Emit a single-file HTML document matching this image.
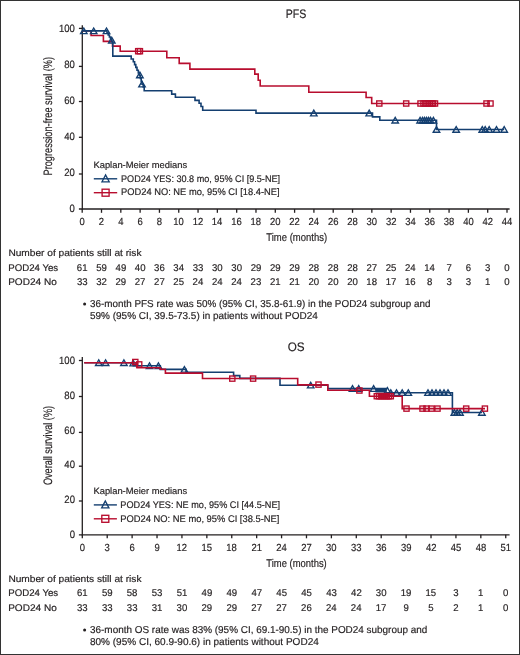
<!DOCTYPE html>
<html><head><meta charset="utf-8"><style>
html,body{margin:0;padding:0;background:#fff;}
body{width:520px;height:655px;overflow:hidden;}
.f{position:absolute;left:0;top:0;width:520px;height:655px;box-sizing:border-box;border:1px solid #333;}
svg{position:absolute;left:0;top:0;will-change:transform;}
text{font-family:"Liberation Sans",sans-serif;stroke:#231f20;stroke-width:0.18px;text-rendering:geometricPrecision;}
</style></head><body>
<div class="f"></div>
<svg width="520" height="655" viewBox="0 0 520 655">
<text x="285.73" y="17.90" font-size="12.3" textLength="20.55" lengthAdjust="spacingAndGlyphs" fill="#231f20">PFS</text>
<text x="58.96" y="31.80" font-size="10.6" textLength="15.92" lengthAdjust="spacingAndGlyphs" fill="#231f20">100</text>
<text x="64.26" y="67.50" font-size="10.6" textLength="10.61" lengthAdjust="spacingAndGlyphs" fill="#231f20">80</text>
<text x="64.26" y="103.50" font-size="10.6" textLength="10.61" lengthAdjust="spacingAndGlyphs" fill="#231f20">60</text>
<text x="64.26" y="139.80" font-size="10.6" textLength="10.61" lengthAdjust="spacingAndGlyphs" fill="#231f20">40</text>
<text x="64.26" y="175.80" font-size="10.6" textLength="10.61" lengthAdjust="spacingAndGlyphs" fill="#231f20">20</text>
<text x="69.57" y="211.70" font-size="10.6" textLength="5.31" lengthAdjust="spacingAndGlyphs" fill="#231f20">0</text>
<text transform="translate(51.50,174.70) rotate(-90)" x="-0.75" y="0" font-size="12.2" textLength="118.52" lengthAdjust="spacingAndGlyphs" fill="#231f20">Progression-free survival (%)</text>
<line x1="82.3" y1="25.2" x2="82.3" y2="209.6" stroke="#231f20" stroke-width="1.3"/>
<line x1="78.9" y1="209.0" x2="509.6" y2="209.0" stroke="#231f20" stroke-width="1.3"/>
<line x1="78.9" y1="28.4" x2="82.3" y2="28.4" stroke="#231f20" stroke-width="1.3"/>
<line x1="78.9" y1="66.4" x2="82.3" y2="66.4" stroke="#231f20" stroke-width="1.3"/>
<line x1="78.9" y1="101.5" x2="82.3" y2="101.5" stroke="#231f20" stroke-width="1.3"/>
<line x1="78.9" y1="137.3" x2="82.3" y2="137.3" stroke="#231f20" stroke-width="1.3"/>
<line x1="78.9" y1="174.0" x2="82.3" y2="174.0" stroke="#231f20" stroke-width="1.3"/>
<line x1="82.2" y1="209.0" x2="82.2" y2="212.8" stroke="#231f20" stroke-width="1.3"/>
<text x="79.56" y="224.60" font-size="10.3" textLength="5.27" lengthAdjust="spacingAndGlyphs" fill="#231f20">0</text>
<line x1="101.50909090909092" y1="209.0" x2="101.50909090909092" y2="212.8" stroke="#231f20" stroke-width="1.3"/>
<text x="98.87" y="224.60" font-size="10.3" textLength="5.27" lengthAdjust="spacingAndGlyphs" fill="#231f20">2</text>
<line x1="120.81818181818181" y1="209.0" x2="120.81818181818181" y2="212.8" stroke="#231f20" stroke-width="1.3"/>
<text x="118.21" y="224.60" font-size="10.3" textLength="5.27" lengthAdjust="spacingAndGlyphs" fill="#231f20">4</text>
<line x1="140.12727272727273" y1="209.0" x2="140.12727272727273" y2="212.8" stroke="#231f20" stroke-width="1.3"/>
<text x="137.46" y="224.60" font-size="10.3" textLength="5.27" lengthAdjust="spacingAndGlyphs" fill="#231f20">6</text>
<line x1="159.43636363636364" y1="209.0" x2="159.43636363636364" y2="212.8" stroke="#231f20" stroke-width="1.3"/>
<text x="156.80" y="224.60" font-size="10.3" textLength="5.27" lengthAdjust="spacingAndGlyphs" fill="#231f20">8</text>
<line x1="178.74545454545455" y1="209.0" x2="178.74545454545455" y2="212.8" stroke="#231f20" stroke-width="1.3"/>
<text x="173.30" y="224.60" font-size="10.3" textLength="10.54" lengthAdjust="spacingAndGlyphs" fill="#231f20">10</text>
<line x1="198.05454545454546" y1="209.0" x2="198.05454545454546" y2="212.8" stroke="#231f20" stroke-width="1.3"/>
<text x="192.66" y="224.60" font-size="10.3" textLength="10.54" lengthAdjust="spacingAndGlyphs" fill="#231f20">12</text>
<line x1="217.36363636363637" y1="209.0" x2="217.36363636363637" y2="212.8" stroke="#231f20" stroke-width="1.3"/>
<text x="211.87" y="224.60" font-size="10.3" textLength="10.54" lengthAdjust="spacingAndGlyphs" fill="#231f20">14</text>
<line x1="236.6727272727273" y1="209.0" x2="236.6727272727273" y2="212.8" stroke="#231f20" stroke-width="1.3"/>
<text x="231.25" y="224.60" font-size="10.3" textLength="10.54" lengthAdjust="spacingAndGlyphs" fill="#231f20">16</text>
<line x1="255.9818181818182" y1="209.0" x2="255.9818181818182" y2="212.8" stroke="#231f20" stroke-width="1.3"/>
<text x="250.56" y="224.60" font-size="10.3" textLength="10.54" lengthAdjust="spacingAndGlyphs" fill="#231f20">18</text>
<line x1="275.2909090909091" y1="209.0" x2="275.2909090909091" y2="212.8" stroke="#231f20" stroke-width="1.3"/>
<text x="269.97" y="224.60" font-size="10.3" textLength="10.54" lengthAdjust="spacingAndGlyphs" fill="#231f20">20</text>
<line x1="294.6" y1="209.0" x2="294.6" y2="212.8" stroke="#231f20" stroke-width="1.3"/>
<text x="289.33" y="224.60" font-size="10.3" textLength="10.54" lengthAdjust="spacingAndGlyphs" fill="#231f20">22</text>
<line x1="313.9090909090909" y1="209.0" x2="313.9090909090909" y2="212.8" stroke="#231f20" stroke-width="1.3"/>
<text x="308.54" y="224.60" font-size="10.3" textLength="10.54" lengthAdjust="spacingAndGlyphs" fill="#231f20">24</text>
<line x1="333.2181818181818" y1="209.0" x2="333.2181818181818" y2="212.8" stroke="#231f20" stroke-width="1.3"/>
<text x="327.92" y="224.60" font-size="10.3" textLength="10.54" lengthAdjust="spacingAndGlyphs" fill="#231f20">26</text>
<line x1="352.5272727272727" y1="209.0" x2="352.5272727272727" y2="212.8" stroke="#231f20" stroke-width="1.3"/>
<text x="347.22" y="224.60" font-size="10.3" textLength="10.54" lengthAdjust="spacingAndGlyphs" fill="#231f20">28</text>
<line x1="371.8363636363636" y1="209.0" x2="371.8363636363636" y2="212.8" stroke="#231f20" stroke-width="1.3"/>
<text x="366.57" y="224.60" font-size="10.3" textLength="10.54" lengthAdjust="spacingAndGlyphs" fill="#231f20">30</text>
<line x1="391.1454545454545" y1="209.0" x2="391.1454545454545" y2="212.8" stroke="#231f20" stroke-width="1.3"/>
<text x="385.93" y="224.60" font-size="10.3" textLength="10.54" lengthAdjust="spacingAndGlyphs" fill="#231f20">32</text>
<line x1="410.45454545454544" y1="209.0" x2="410.45454545454544" y2="212.8" stroke="#231f20" stroke-width="1.3"/>
<text x="405.14" y="224.60" font-size="10.3" textLength="10.54" lengthAdjust="spacingAndGlyphs" fill="#231f20">34</text>
<line x1="429.76363636363635" y1="209.0" x2="429.76363636363635" y2="212.8" stroke="#231f20" stroke-width="1.3"/>
<text x="424.52" y="224.60" font-size="10.3" textLength="10.54" lengthAdjust="spacingAndGlyphs" fill="#231f20">36</text>
<line x1="449.07272727272726" y1="209.0" x2="449.07272727272726" y2="212.8" stroke="#231f20" stroke-width="1.3"/>
<text x="443.83" y="224.60" font-size="10.3" textLength="10.54" lengthAdjust="spacingAndGlyphs" fill="#231f20">38</text>
<line x1="468.3818181818182" y1="209.0" x2="468.3818181818182" y2="212.8" stroke="#231f20" stroke-width="1.3"/>
<text x="463.19" y="224.60" font-size="10.3" textLength="10.54" lengthAdjust="spacingAndGlyphs" fill="#231f20">40</text>
<line x1="487.6909090909091" y1="209.0" x2="487.6909090909091" y2="212.8" stroke="#231f20" stroke-width="1.3"/>
<text x="482.55" y="224.60" font-size="10.3" textLength="10.54" lengthAdjust="spacingAndGlyphs" fill="#231f20">42</text>
<line x1="507.0" y1="209.0" x2="507.0" y2="212.8" stroke="#231f20" stroke-width="1.3"/>
<text x="501.76" y="224.60" font-size="10.3" textLength="10.54" lengthAdjust="spacingAndGlyphs" fill="#231f20">44</text>
<text x="266.29" y="241.10" font-size="11.2" textLength="60.80" lengthAdjust="spacingAndGlyphs" fill="#231f20">Time (months)</text>
<path d="M82.3,30.9H91.1V35.5H103.4V41.4H112.5V46.1H120.2V51.2H166.8V57.7H179.2V63.4H189.9V69.1H254.8V74.1H258.2V80.2H260.2V86H308.8V92.2H366.1V97.5H371.7V103.5H490" fill="none" stroke="#b80d2e" stroke-width="1.6"/>
<rect x="135.60" y="48.60" width="5.20" height="5.20" fill="none" stroke="#b80d2e" stroke-width="1.35"/>
<rect x="137.30" y="48.60" width="5.20" height="5.20" fill="none" stroke="#b80d2e" stroke-width="1.35"/>
<rect x="376.70" y="100.90" width="5.20" height="5.20" fill="none" stroke="#b80d2e" stroke-width="1.35"/>
<rect x="403.60" y="100.90" width="5.20" height="5.20" fill="none" stroke="#b80d2e" stroke-width="1.35"/>
<rect x="417.90" y="100.90" width="5.20" height="5.20" fill="none" stroke="#b80d2e" stroke-width="1.35"/>
<rect x="420.90" y="100.90" width="5.20" height="5.20" fill="none" stroke="#b80d2e" stroke-width="1.35"/>
<rect x="422.90" y="100.90" width="5.20" height="5.20" fill="none" stroke="#b80d2e" stroke-width="1.35"/>
<rect x="424.90" y="100.90" width="5.20" height="5.20" fill="none" stroke="#b80d2e" stroke-width="1.35"/>
<rect x="426.90" y="100.90" width="5.20" height="5.20" fill="none" stroke="#b80d2e" stroke-width="1.35"/>
<rect x="428.90" y="100.90" width="5.20" height="5.20" fill="none" stroke="#b80d2e" stroke-width="1.35"/>
<rect x="430.40" y="100.90" width="5.20" height="5.20" fill="none" stroke="#b80d2e" stroke-width="1.35"/>
<rect x="432.40" y="100.90" width="5.20" height="5.20" fill="none" stroke="#b80d2e" stroke-width="1.35"/>
<rect x="483.90" y="100.90" width="5.20" height="5.20" fill="none" stroke="#b80d2e" stroke-width="1.35"/>
<rect x="487.90" y="100.90" width="5.20" height="5.20" fill="none" stroke="#b80d2e" stroke-width="1.35"/>
<path d="M82.3,30.9H107V33H108.2V35H109.4V37H110.5V39H111.6V41.3H112.8V56.1H131.2V59H133.3V61.8H134.6V64.6H135.8V67.4H137V70.2H138.3V73H139.6V75.6H140.4V78.5H141.2V81.5H142V84.3H143.2V87H144.2V90.8H171.7V94.1H175.4V97.2H195V100.4H199.1V103.3H201V106.5H202.7V110.2H256V113.1H372.5V116.9H379.8V120.3H436.5V129.5H504.2" fill="none" stroke="#143f70" stroke-width="1.6"/>
<path d="M80.55,33.60L83.80,28.00L87.05,33.60Z" fill="none" stroke="#143f70" stroke-width="1.35" stroke-linejoin="miter"/>
<path d="M90.45,33.60L93.70,28.00L96.95,33.60Z" fill="none" stroke="#143f70" stroke-width="1.35" stroke-linejoin="miter"/>
<path d="M103.25,33.60L106.50,28.00L109.75,33.60Z" fill="none" stroke="#143f70" stroke-width="1.35" stroke-linejoin="miter"/>
<path d="M108.55,43.00L111.80,37.40L115.05,43.00Z" fill="none" stroke="#143f70" stroke-width="1.35" stroke-linejoin="miter"/>
<path d="M136.65,77.70L139.90,72.10L143.15,77.70Z" fill="none" stroke="#143f70" stroke-width="1.35" stroke-linejoin="miter"/>
<path d="M138.75,86.90L142.00,81.30L145.25,86.90Z" fill="none" stroke="#143f70" stroke-width="1.35" stroke-linejoin="miter"/>
<path d="M310.55,115.80L313.80,110.20L317.05,115.80Z" fill="none" stroke="#143f70" stroke-width="1.35" stroke-linejoin="miter"/>
<path d="M365.95,115.80L369.20,110.20L372.45,115.80Z" fill="none" stroke="#143f70" stroke-width="1.35" stroke-linejoin="miter"/>
<path d="M391.95,123.00L395.20,117.40L398.45,123.00Z" fill="none" stroke="#143f70" stroke-width="1.35" stroke-linejoin="miter"/>
<path d="M416.85,123.00L420.10,117.40L423.35,123.00Z" fill="none" stroke="#143f70" stroke-width="1.35" stroke-linejoin="miter"/>
<path d="M419.25,123.00L422.50,117.40L425.75,123.00Z" fill="none" stroke="#143f70" stroke-width="1.35" stroke-linejoin="miter"/>
<path d="M421.25,123.00L424.50,117.40L427.75,123.00Z" fill="none" stroke="#143f70" stroke-width="1.35" stroke-linejoin="miter"/>
<path d="M423.25,123.00L426.50,117.40L429.75,123.00Z" fill="none" stroke="#143f70" stroke-width="1.35" stroke-linejoin="miter"/>
<path d="M425.25,123.00L428.50,117.40L431.75,123.00Z" fill="none" stroke="#143f70" stroke-width="1.35" stroke-linejoin="miter"/>
<path d="M427.25,123.00L430.50,117.40L433.75,123.00Z" fill="none" stroke="#143f70" stroke-width="1.35" stroke-linejoin="miter"/>
<path d="M430.15,123.00L433.40,117.40L436.65,123.00Z" fill="none" stroke="#143f70" stroke-width="1.35" stroke-linejoin="miter"/>
<path d="M433.25,132.20L436.50,126.60L439.75,132.20Z" fill="none" stroke="#143f70" stroke-width="1.35" stroke-linejoin="miter"/>
<path d="M452.95,132.20L456.20,126.60L459.45,132.20Z" fill="none" stroke="#143f70" stroke-width="1.35" stroke-linejoin="miter"/>
<path d="M479.05,132.20L482.30,126.60L485.55,132.20Z" fill="none" stroke="#143f70" stroke-width="1.35" stroke-linejoin="miter"/>
<path d="M481.95,132.20L485.20,126.60L488.45,132.20Z" fill="none" stroke="#143f70" stroke-width="1.35" stroke-linejoin="miter"/>
<path d="M485.95,132.20L489.20,126.60L492.45,132.20Z" fill="none" stroke="#143f70" stroke-width="1.35" stroke-linejoin="miter"/>
<path d="M493.25,132.20L496.50,126.60L499.75,132.20Z" fill="none" stroke="#143f70" stroke-width="1.35" stroke-linejoin="miter"/>
<path d="M500.95,132.20L504.20,126.60L507.45,132.20Z" fill="none" stroke="#143f70" stroke-width="1.35" stroke-linejoin="miter"/>
<text x="93.43" y="168.10" font-size="9.2" textLength="93.71" lengthAdjust="spacingAndGlyphs" fill="#231f20">Kaplan-Meier medians</text>
<line x1="93.8" y1="178.8" x2="117.2" y2="178.8" stroke="#143f70" stroke-width="1.4"/>
<path d="M102.00,181.80L105.60,174.90L109.20,181.80Z" fill="none" stroke="#143f70" stroke-width="1.35" stroke-linejoin="miter"/>
<text x="121.06" y="181.90" font-size="9.6" textLength="158.99" lengthAdjust="spacingAndGlyphs" fill="#231f20">POD24 YES: 30.8 mo, 95% CI [9.5-NE]</text>
<line x1="93.8" y1="192.7" x2="117.2" y2="192.7" stroke="#b80d2e" stroke-width="1.4"/>
<rect x="102.10" y="189.20" width="7.00" height="7.00" fill="none" stroke="#b80d2e" stroke-width="1.35"/>
<text x="121.04" y="195.30" font-size="9.6" textLength="158.53" lengthAdjust="spacingAndGlyphs" fill="#231f20">POD24 NO: NE mo, 95% CI [18.4-NE]</text>
<text x="8.42" y="256.30" font-size="9.5" textLength="133.07" lengthAdjust="spacingAndGlyphs" fill="#231f20">Number of patients still at risk</text>
<text x="8.22" y="270.60" font-size="9.6" textLength="49.92" lengthAdjust="spacingAndGlyphs" fill="#231f20">POD24 Yes</text>
<text x="8.18" y="285.00" font-size="9.6" textLength="48.55" lengthAdjust="spacingAndGlyphs" fill="#231f20">POD24 No</text>
<text x="76.85" y="270.60" font-size="9.8" textLength="10.68" lengthAdjust="spacingAndGlyphs" fill="#231f20">61</text>
<text x="76.89" y="285.00" font-size="9.8" textLength="10.68" lengthAdjust="spacingAndGlyphs" fill="#231f20">33</text>
<text x="96.20" y="270.60" font-size="9.8" textLength="10.68" lengthAdjust="spacingAndGlyphs" fill="#231f20">59</text>
<text x="96.23" y="285.00" font-size="9.8" textLength="10.68" lengthAdjust="spacingAndGlyphs" fill="#231f20">32</text>
<text x="115.59" y="270.60" font-size="9.8" textLength="10.68" lengthAdjust="spacingAndGlyphs" fill="#231f20">49</text>
<text x="115.46" y="285.00" font-size="9.8" textLength="10.68" lengthAdjust="spacingAndGlyphs" fill="#231f20">29</text>
<text x="134.86" y="270.60" font-size="9.8" textLength="10.68" lengthAdjust="spacingAndGlyphs" fill="#231f20">40</text>
<text x="134.79" y="285.00" font-size="9.8" textLength="10.68" lengthAdjust="spacingAndGlyphs" fill="#231f20">27</text>
<text x="154.12" y="270.60" font-size="9.8" textLength="10.68" lengthAdjust="spacingAndGlyphs" fill="#231f20">36</text>
<text x="154.10" y="285.00" font-size="9.8" textLength="10.68" lengthAdjust="spacingAndGlyphs" fill="#231f20">27</text>
<text x="173.36" y="270.60" font-size="9.8" textLength="10.68" lengthAdjust="spacingAndGlyphs" fill="#231f20">34</text>
<text x="173.36" y="285.00" font-size="9.8" textLength="10.68" lengthAdjust="spacingAndGlyphs" fill="#231f20">25</text>
<text x="192.74" y="270.60" font-size="9.8" textLength="10.68" lengthAdjust="spacingAndGlyphs" fill="#231f20">33</text>
<text x="192.61" y="285.00" font-size="9.8" textLength="10.68" lengthAdjust="spacingAndGlyphs" fill="#231f20">24</text>
<text x="212.03" y="270.60" font-size="9.8" textLength="10.68" lengthAdjust="spacingAndGlyphs" fill="#231f20">30</text>
<text x="211.92" y="285.00" font-size="9.8" textLength="10.68" lengthAdjust="spacingAndGlyphs" fill="#231f20">24</text>
<text x="231.34" y="270.60" font-size="9.8" textLength="10.68" lengthAdjust="spacingAndGlyphs" fill="#231f20">30</text>
<text x="231.23" y="285.00" font-size="9.8" textLength="10.68" lengthAdjust="spacingAndGlyphs" fill="#231f20">24</text>
<text x="250.63" y="270.60" font-size="9.8" textLength="10.68" lengthAdjust="spacingAndGlyphs" fill="#231f20">29</text>
<text x="250.61" y="285.00" font-size="9.8" textLength="10.68" lengthAdjust="spacingAndGlyphs" fill="#231f20">23</text>
<text x="269.94" y="270.60" font-size="9.8" textLength="10.68" lengthAdjust="spacingAndGlyphs" fill="#231f20">29</text>
<text x="269.94" y="285.00" font-size="9.8" textLength="10.68" lengthAdjust="spacingAndGlyphs" fill="#231f20">21</text>
<text x="289.24" y="270.60" font-size="9.8" textLength="10.68" lengthAdjust="spacingAndGlyphs" fill="#231f20">29</text>
<text x="289.25" y="285.00" font-size="9.8" textLength="10.68" lengthAdjust="spacingAndGlyphs" fill="#231f20">21</text>
<text x="308.53" y="270.60" font-size="9.8" textLength="10.68" lengthAdjust="spacingAndGlyphs" fill="#231f20">28</text>
<text x="308.51" y="285.00" font-size="9.8" textLength="10.68" lengthAdjust="spacingAndGlyphs" fill="#231f20">20</text>
<text x="327.84" y="270.60" font-size="9.8" textLength="10.68" lengthAdjust="spacingAndGlyphs" fill="#231f20">28</text>
<text x="327.82" y="285.00" font-size="9.8" textLength="10.68" lengthAdjust="spacingAndGlyphs" fill="#231f20">20</text>
<text x="347.15" y="270.60" font-size="9.8" textLength="10.68" lengthAdjust="spacingAndGlyphs" fill="#231f20">28</text>
<text x="347.13" y="285.00" font-size="9.8" textLength="10.68" lengthAdjust="spacingAndGlyphs" fill="#231f20">20</text>
<text x="366.50" y="270.60" font-size="9.8" textLength="10.68" lengthAdjust="spacingAndGlyphs" fill="#231f20">27</text>
<text x="366.34" y="285.00" font-size="9.8" textLength="10.68" lengthAdjust="spacingAndGlyphs" fill="#231f20">18</text>
<text x="385.76" y="270.60" font-size="9.8" textLength="10.68" lengthAdjust="spacingAndGlyphs" fill="#231f20">25</text>
<text x="385.68" y="285.00" font-size="9.8" textLength="10.68" lengthAdjust="spacingAndGlyphs" fill="#231f20">17</text>
<text x="405.01" y="270.60" font-size="9.8" textLength="10.68" lengthAdjust="spacingAndGlyphs" fill="#231f20">24</text>
<text x="404.96" y="285.00" font-size="9.8" textLength="10.68" lengthAdjust="spacingAndGlyphs" fill="#231f20">16</text>
<text x="424.20" y="270.60" font-size="9.8" textLength="10.68" lengthAdjust="spacingAndGlyphs" fill="#231f20">14</text>
<text x="427.09" y="285.00" font-size="9.8" textLength="5.34" lengthAdjust="spacingAndGlyphs" fill="#231f20">8</text>
<text x="446.40" y="270.60" font-size="9.8" textLength="5.34" lengthAdjust="spacingAndGlyphs" fill="#231f20">7</text>
<text x="446.43" y="285.00" font-size="9.8" textLength="5.34" lengthAdjust="spacingAndGlyphs" fill="#231f20">3</text>
<text x="465.68" y="270.60" font-size="9.8" textLength="5.34" lengthAdjust="spacingAndGlyphs" fill="#231f20">6</text>
<text x="465.74" y="285.00" font-size="9.8" textLength="5.34" lengthAdjust="spacingAndGlyphs" fill="#231f20">3</text>
<text x="485.05" y="270.60" font-size="9.8" textLength="5.34" lengthAdjust="spacingAndGlyphs" fill="#231f20">3</text>
<text x="484.89" y="285.00" font-size="9.8" textLength="5.34" lengthAdjust="spacingAndGlyphs" fill="#231f20">1</text>
<text x="504.33" y="270.60" font-size="9.8" textLength="5.34" lengthAdjust="spacingAndGlyphs" fill="#231f20">0</text>
<text x="504.33" y="285.00" font-size="9.8" textLength="5.34" lengthAdjust="spacingAndGlyphs" fill="#231f20">0</text>
<circle cx="84.6" cy="303.9" r="1.5" fill="#231f20"/>
<text x="90.02" y="307.00" font-size="10" textLength="340.41" lengthAdjust="spacingAndGlyphs" fill="#231f20">36-month PFS rate was 50% (95% CI, 35.8-61.9) in the POD24 subgroup and</text>
<text x="90.00" y="318.90" font-size="10" textLength="227.79" lengthAdjust="spacingAndGlyphs" fill="#231f20">59% (95% CI, 39.5-73.5) in patients without POD24</text>
<text x="287.75" y="350.50" font-size="12.3" textLength="16.89" lengthAdjust="spacingAndGlyphs" fill="#231f20">OS</text>
<text x="59.06" y="363.70" font-size="10.6" textLength="15.92" lengthAdjust="spacingAndGlyphs" fill="#231f20">100</text>
<text x="64.36" y="398.50" font-size="10.6" textLength="10.61" lengthAdjust="spacingAndGlyphs" fill="#231f20">80</text>
<text x="64.36" y="433.60" font-size="10.6" textLength="10.61" lengthAdjust="spacingAndGlyphs" fill="#231f20">60</text>
<text x="64.36" y="468.10" font-size="10.6" textLength="10.61" lengthAdjust="spacingAndGlyphs" fill="#231f20">40</text>
<text x="64.36" y="502.80" font-size="10.6" textLength="10.61" lengthAdjust="spacingAndGlyphs" fill="#231f20">20</text>
<text x="69.67" y="537.80" font-size="10.6" textLength="5.31" lengthAdjust="spacingAndGlyphs" fill="#231f20">0</text>
<text transform="translate(51.70,484.70) rotate(-90)" x="-0.43" y="0" font-size="12.2" textLength="79.20" lengthAdjust="spacingAndGlyphs" fill="#231f20">Overall survival (%)</text>
<line x1="82.3" y1="356.9" x2="82.3" y2="535.4" stroke="#231f20" stroke-width="1.3"/>
<line x1="78.9" y1="534.8" x2="509.6" y2="534.8" stroke="#231f20" stroke-width="1.3"/>
<line x1="78.9" y1="360.5" x2="82.3" y2="360.5" stroke="#231f20" stroke-width="1.3"/>
<line x1="78.9" y1="396.5" x2="82.3" y2="396.5" stroke="#231f20" stroke-width="1.3"/>
<line x1="78.9" y1="432.4" x2="82.3" y2="432.4" stroke="#231f20" stroke-width="1.3"/>
<line x1="78.9" y1="466.2" x2="82.3" y2="466.2" stroke="#231f20" stroke-width="1.3"/>
<line x1="78.9" y1="501.0" x2="82.3" y2="501.0" stroke="#231f20" stroke-width="1.3"/>
<line x1="82.3" y1="534.8" x2="82.3" y2="538.3" stroke="#231f20" stroke-width="1.3"/>
<text x="79.66" y="550.60" font-size="10.3" textLength="5.27" lengthAdjust="spacingAndGlyphs" fill="#231f20">0</text>
<line x1="107.20882352941176" y1="534.8" x2="107.20882352941176" y2="538.3" stroke="#231f20" stroke-width="1.3"/>
<text x="104.60" y="550.60" font-size="10.3" textLength="5.27" lengthAdjust="spacingAndGlyphs" fill="#231f20">3</text>
<line x1="132.11764705882354" y1="534.8" x2="132.11764705882354" y2="538.3" stroke="#231f20" stroke-width="1.3"/>
<text x="129.45" y="550.60" font-size="10.3" textLength="5.27" lengthAdjust="spacingAndGlyphs" fill="#231f20">6</text>
<line x1="157.02647058823527" y1="534.8" x2="157.02647058823527" y2="538.3" stroke="#231f20" stroke-width="1.3"/>
<text x="154.39" y="550.60" font-size="10.3" textLength="5.27" lengthAdjust="spacingAndGlyphs" fill="#231f20">9</text>
<line x1="181.93529411764706" y1="534.8" x2="181.93529411764706" y2="538.3" stroke="#231f20" stroke-width="1.3"/>
<text x="176.54" y="550.60" font-size="10.3" textLength="10.54" lengthAdjust="spacingAndGlyphs" fill="#231f20">12</text>
<line x1="206.8441176470588" y1="534.8" x2="206.8441176470588" y2="538.3" stroke="#231f20" stroke-width="1.3"/>
<text x="201.41" y="550.60" font-size="10.3" textLength="10.54" lengthAdjust="spacingAndGlyphs" fill="#231f20">15</text>
<line x1="231.75294117647059" y1="534.8" x2="231.75294117647059" y2="538.3" stroke="#231f20" stroke-width="1.3"/>
<text x="226.33" y="550.60" font-size="10.3" textLength="10.54" lengthAdjust="spacingAndGlyphs" fill="#231f20">18</text>
<line x1="256.6617647058823" y1="534.8" x2="256.6617647058823" y2="538.3" stroke="#231f20" stroke-width="1.3"/>
<text x="251.38" y="550.60" font-size="10.3" textLength="10.54" lengthAdjust="spacingAndGlyphs" fill="#231f20">21</text>
<line x1="281.5705882352941" y1="534.8" x2="281.5705882352941" y2="538.3" stroke="#231f20" stroke-width="1.3"/>
<text x="276.20" y="550.60" font-size="10.3" textLength="10.54" lengthAdjust="spacingAndGlyphs" fill="#231f20">24</text>
<line x1="306.47941176470584" y1="534.8" x2="306.47941176470584" y2="538.3" stroke="#231f20" stroke-width="1.3"/>
<text x="301.21" y="550.60" font-size="10.3" textLength="10.54" lengthAdjust="spacingAndGlyphs" fill="#231f20">27</text>
<line x1="331.38823529411764" y1="534.8" x2="331.38823529411764" y2="538.3" stroke="#231f20" stroke-width="1.3"/>
<text x="326.12" y="550.60" font-size="10.3" textLength="10.54" lengthAdjust="spacingAndGlyphs" fill="#231f20">30</text>
<line x1="356.2970588235294" y1="534.8" x2="356.2970588235294" y2="538.3" stroke="#231f20" stroke-width="1.3"/>
<text x="351.05" y="550.60" font-size="10.3" textLength="10.54" lengthAdjust="spacingAndGlyphs" fill="#231f20">33</text>
<line x1="381.20588235294116" y1="534.8" x2="381.20588235294116" y2="538.3" stroke="#231f20" stroke-width="1.3"/>
<text x="375.96" y="550.60" font-size="10.3" textLength="10.54" lengthAdjust="spacingAndGlyphs" fill="#231f20">36</text>
<line x1="406.1147058823529" y1="534.8" x2="406.1147058823529" y2="538.3" stroke="#231f20" stroke-width="1.3"/>
<text x="400.89" y="550.60" font-size="10.3" textLength="10.54" lengthAdjust="spacingAndGlyphs" fill="#231f20">39</text>
<line x1="431.0235294117647" y1="534.8" x2="431.0235294117647" y2="538.3" stroke="#231f20" stroke-width="1.3"/>
<text x="425.88" y="550.60" font-size="10.3" textLength="10.54" lengthAdjust="spacingAndGlyphs" fill="#231f20">42</text>
<line x1="455.9323529411765" y1="534.8" x2="455.9323529411765" y2="538.3" stroke="#231f20" stroke-width="1.3"/>
<text x="450.75" y="550.60" font-size="10.3" textLength="10.54" lengthAdjust="spacingAndGlyphs" fill="#231f20">45</text>
<line x1="480.8411764705882" y1="534.8" x2="480.8411764705882" y2="538.3" stroke="#231f20" stroke-width="1.3"/>
<text x="475.67" y="550.60" font-size="10.3" textLength="10.54" lengthAdjust="spacingAndGlyphs" fill="#231f20">48</text>
<line x1="505.74999999999994" y1="534.8" x2="505.74999999999994" y2="538.3" stroke="#231f20" stroke-width="1.3"/>
<text x="500.52" y="550.60" font-size="10.3" textLength="10.54" lengthAdjust="spacingAndGlyphs" fill="#231f20">51</text>
<text x="266.29" y="566.50" font-size="11.2" textLength="60.49" lengthAdjust="spacingAndGlyphs" fill="#231f20">Time (months)</text>
<rect x="375.4" y="388.7" width="10" height="3.8" fill="#143f70"/>
<path d="M84.2,362.8H133.3V365.8H160.3V369.4H186V372.2H233.6V375.6H239.8V378.4H280V385.2H327.8V388.6H386V392.7H452.4V412.5H482" fill="none" stroke="#143f70" stroke-width="1.6"/>
<path d="M95.50,365.50L98.75,359.90L102.00,365.50Z" fill="none" stroke="#143f70" stroke-width="1.35" stroke-linejoin="miter"/>
<path d="M102.35,365.50L105.60,359.90L108.85,365.50Z" fill="none" stroke="#143f70" stroke-width="1.35" stroke-linejoin="miter"/>
<path d="M120.65,365.50L123.90,359.90L127.15,365.50Z" fill="none" stroke="#143f70" stroke-width="1.35" stroke-linejoin="miter"/>
<path d="M129.95,365.90L133.20,360.30L136.45,365.90Z" fill="none" stroke="#143f70" stroke-width="1.35" stroke-linejoin="miter"/>
<path d="M146.25,368.50L149.50,362.90L152.75,368.50Z" fill="none" stroke="#143f70" stroke-width="1.35" stroke-linejoin="miter"/>
<path d="M155.15,368.50L158.40,362.90L161.65,368.50Z" fill="none" stroke="#143f70" stroke-width="1.35" stroke-linejoin="miter"/>
<path d="M181.15,372.10L184.40,366.50L187.65,372.10Z" fill="none" stroke="#143f70" stroke-width="1.35" stroke-linejoin="miter"/>
<path d="M307.45,387.90L310.70,382.30L313.95,387.90Z" fill="none" stroke="#143f70" stroke-width="1.35" stroke-linejoin="miter"/>
<path d="M349.25,391.30L352.50,385.70L355.75,391.30Z" fill="none" stroke="#143f70" stroke-width="1.35" stroke-linejoin="miter"/>
<path d="M355.45,391.30L358.70,385.70L361.95,391.30Z" fill="none" stroke="#143f70" stroke-width="1.35" stroke-linejoin="miter"/>
<path d="M370.35,391.30L373.60,385.70L376.85,391.30Z" fill="none" stroke="#143f70" stroke-width="1.35" stroke-linejoin="miter"/>
<path d="M384.15,393.20L387.40,387.60L390.65,393.20Z" fill="none" stroke="#143f70" stroke-width="1.35" stroke-linejoin="miter"/>
<path d="M387.55,395.40L390.80,389.80L394.05,395.40Z" fill="none" stroke="#143f70" stroke-width="1.35" stroke-linejoin="miter"/>
<path d="M393.25,395.40L396.50,389.80L399.75,395.40Z" fill="none" stroke="#143f70" stroke-width="1.35" stroke-linejoin="miter"/>
<path d="M398.95,395.40L402.20,389.80L405.45,395.40Z" fill="none" stroke="#143f70" stroke-width="1.35" stroke-linejoin="miter"/>
<path d="M405.05,395.40L408.30,389.80L411.55,395.40Z" fill="none" stroke="#143f70" stroke-width="1.35" stroke-linejoin="miter"/>
<path d="M424.75,395.40L428.00,389.80L431.25,395.40Z" fill="none" stroke="#143f70" stroke-width="1.35" stroke-linejoin="miter"/>
<path d="M428.75,395.40L432.00,389.80L435.25,395.40Z" fill="none" stroke="#143f70" stroke-width="1.35" stroke-linejoin="miter"/>
<path d="M432.75,395.40L436.00,389.80L439.25,395.40Z" fill="none" stroke="#143f70" stroke-width="1.35" stroke-linejoin="miter"/>
<path d="M436.75,395.40L440.00,389.80L443.25,395.40Z" fill="none" stroke="#143f70" stroke-width="1.35" stroke-linejoin="miter"/>
<path d="M440.75,395.40L444.00,389.80L447.25,395.40Z" fill="none" stroke="#143f70" stroke-width="1.35" stroke-linejoin="miter"/>
<path d="M444.75,395.40L448.00,389.80L451.25,395.40Z" fill="none" stroke="#143f70" stroke-width="1.35" stroke-linejoin="miter"/>
<path d="M451.15,415.20L454.40,409.60L457.65,415.20Z" fill="none" stroke="#143f70" stroke-width="1.35" stroke-linejoin="miter"/>
<path d="M453.95,415.20L457.20,409.60L460.45,415.20Z" fill="none" stroke="#143f70" stroke-width="1.35" stroke-linejoin="miter"/>
<path d="M456.75,415.20L460.00,409.60L463.25,415.20Z" fill="none" stroke="#143f70" stroke-width="1.35" stroke-linejoin="miter"/>
<path d="M478.65,415.20L481.90,409.60L485.15,415.20Z" fill="none" stroke="#143f70" stroke-width="1.35" stroke-linejoin="miter"/>
<path d="M84.2,362.8H137V367.8H160.3V369.3H165.4V373.1H202.5V378.5H297.7V384.9H327.8V390.3H369.4V396.2H402.2V408.6H485" fill="none" stroke="#b80d2e" stroke-width="1.6"/>
<rect x="132.70" y="359.40" width="5.20" height="5.20" fill="none" stroke="#b80d2e" stroke-width="1.35"/>
<rect x="136.60" y="361.80" width="5.20" height="5.20" fill="none" stroke="#b80d2e" stroke-width="1.35"/>
<rect x="229.70" y="376.00" width="5.20" height="5.20" fill="none" stroke="#b80d2e" stroke-width="1.35"/>
<rect x="250.50" y="376.00" width="5.20" height="5.20" fill="none" stroke="#b80d2e" stroke-width="1.35"/>
<rect x="315.90" y="382.00" width="5.20" height="5.20" fill="none" stroke="#b80d2e" stroke-width="1.35"/>
<rect x="356.80" y="387.90" width="5.20" height="5.20" fill="none" stroke="#b80d2e" stroke-width="1.35"/>
<rect x="374.20" y="393.60" width="5.20" height="5.20" fill="none" stroke="#b80d2e" stroke-width="1.35"/>
<rect x="376.40" y="393.60" width="5.20" height="5.20" fill="none" stroke="#b80d2e" stroke-width="1.35"/>
<rect x="378.40" y="393.60" width="5.20" height="5.20" fill="none" stroke="#b80d2e" stroke-width="1.35"/>
<rect x="380.40" y="393.60" width="5.20" height="5.20" fill="none" stroke="#b80d2e" stroke-width="1.35"/>
<rect x="382.40" y="393.60" width="5.20" height="5.20" fill="none" stroke="#b80d2e" stroke-width="1.35"/>
<rect x="384.40" y="393.60" width="5.20" height="5.20" fill="none" stroke="#b80d2e" stroke-width="1.35"/>
<rect x="386.40" y="393.60" width="5.20" height="5.20" fill="none" stroke="#b80d2e" stroke-width="1.35"/>
<rect x="388.20" y="393.60" width="5.20" height="5.20" fill="none" stroke="#b80d2e" stroke-width="1.35"/>
<rect x="403.90" y="406.00" width="5.20" height="5.20" fill="none" stroke="#b80d2e" stroke-width="1.35"/>
<rect x="419.90" y="406.00" width="5.20" height="5.20" fill="none" stroke="#b80d2e" stroke-width="1.35"/>
<rect x="423.90" y="406.00" width="5.20" height="5.20" fill="none" stroke="#b80d2e" stroke-width="1.35"/>
<rect x="428.90" y="406.00" width="5.20" height="5.20" fill="none" stroke="#b80d2e" stroke-width="1.35"/>
<rect x="434.90" y="406.00" width="5.20" height="5.20" fill="none" stroke="#b80d2e" stroke-width="1.35"/>
<rect x="463.60" y="406.00" width="5.20" height="5.20" fill="none" stroke="#b80d2e" stroke-width="1.35"/>
<rect x="482.30" y="406.00" width="5.20" height="5.20" fill="none" stroke="#b80d2e" stroke-width="1.35"/>
<text x="93.43" y="493.80" font-size="9.2" textLength="93.71" lengthAdjust="spacingAndGlyphs" fill="#231f20">Kaplan-Meier medians</text>
<line x1="93.8" y1="504.9" x2="116.9" y2="504.9" stroke="#143f70" stroke-width="1.4"/>
<path d="M101.70,507.90L105.30,501.00L108.90,507.90Z" fill="none" stroke="#143f70" stroke-width="1.35" stroke-linejoin="miter"/>
<text x="120.35" y="508.00" font-size="9.6" textLength="159.70" lengthAdjust="spacingAndGlyphs" fill="#231f20">POD24 YES: NE mo, 95% CI [44.5-NE]</text>
<line x1="93.8" y1="518.8" x2="116.9" y2="518.8" stroke="#b80d2e" stroke-width="1.4"/>
<rect x="101.80" y="515.30" width="7.00" height="7.00" fill="none" stroke="#b80d2e" stroke-width="1.35"/>
<text x="120.33" y="521.50" font-size="9.6" textLength="159.03" lengthAdjust="spacingAndGlyphs" fill="#231f20">POD24 NO: NE mo, 95% CI [38.5-NE]</text>
<text x="8.42" y="582.10" font-size="9.5" textLength="133.07" lengthAdjust="spacingAndGlyphs" fill="#231f20">Number of patients still at risk</text>
<text x="8.22" y="596.30" font-size="9.6" textLength="49.92" lengthAdjust="spacingAndGlyphs" fill="#231f20">POD24 Yes</text>
<text x="8.18" y="610.60" font-size="9.6" textLength="48.55" lengthAdjust="spacingAndGlyphs" fill="#231f20">POD24 No</text>
<text x="76.95" y="596.30" font-size="9.8" textLength="10.68" lengthAdjust="spacingAndGlyphs" fill="#231f20">61</text>
<text x="76.99" y="610.60" font-size="9.8" textLength="10.68" lengthAdjust="spacingAndGlyphs" fill="#231f20">33</text>
<text x="101.90" y="596.30" font-size="9.8" textLength="10.68" lengthAdjust="spacingAndGlyphs" fill="#231f20">59</text>
<text x="101.90" y="610.60" font-size="9.8" textLength="10.68" lengthAdjust="spacingAndGlyphs" fill="#231f20">33</text>
<text x="126.79" y="596.30" font-size="9.8" textLength="10.68" lengthAdjust="spacingAndGlyphs" fill="#231f20">58</text>
<text x="126.80" y="610.60" font-size="9.8" textLength="10.68" lengthAdjust="spacingAndGlyphs" fill="#231f20">33</text>
<text x="151.70" y="596.30" font-size="9.8" textLength="10.68" lengthAdjust="spacingAndGlyphs" fill="#231f20">53</text>
<text x="151.74" y="610.60" font-size="9.8" textLength="10.68" lengthAdjust="spacingAndGlyphs" fill="#231f20">31</text>
<text x="176.64" y="596.30" font-size="9.8" textLength="10.68" lengthAdjust="spacingAndGlyphs" fill="#231f20">51</text>
<text x="176.60" y="610.60" font-size="9.8" textLength="10.68" lengthAdjust="spacingAndGlyphs" fill="#231f20">30</text>
<text x="201.62" y="596.30" font-size="9.8" textLength="10.68" lengthAdjust="spacingAndGlyphs" fill="#231f20">49</text>
<text x="201.49" y="610.60" font-size="9.8" textLength="10.68" lengthAdjust="spacingAndGlyphs" fill="#231f20">29</text>
<text x="226.53" y="596.30" font-size="9.8" textLength="10.68" lengthAdjust="spacingAndGlyphs" fill="#231f20">49</text>
<text x="226.40" y="610.60" font-size="9.8" textLength="10.68" lengthAdjust="spacingAndGlyphs" fill="#231f20">29</text>
<text x="251.45" y="596.30" font-size="9.8" textLength="10.68" lengthAdjust="spacingAndGlyphs" fill="#231f20">47</text>
<text x="251.32" y="610.60" font-size="9.8" textLength="10.68" lengthAdjust="spacingAndGlyphs" fill="#231f20">27</text>
<text x="276.32" y="596.30" font-size="9.8" textLength="10.68" lengthAdjust="spacingAndGlyphs" fill="#231f20">45</text>
<text x="276.23" y="610.60" font-size="9.8" textLength="10.68" lengthAdjust="spacingAndGlyphs" fill="#231f20">27</text>
<text x="301.23" y="596.30" font-size="9.8" textLength="10.68" lengthAdjust="spacingAndGlyphs" fill="#231f20">45</text>
<text x="301.11" y="610.60" font-size="9.8" textLength="10.68" lengthAdjust="spacingAndGlyphs" fill="#231f20">26</text>
<text x="326.15" y="596.30" font-size="9.8" textLength="10.68" lengthAdjust="spacingAndGlyphs" fill="#231f20">43</text>
<text x="325.95" y="610.60" font-size="9.8" textLength="10.68" lengthAdjust="spacingAndGlyphs" fill="#231f20">24</text>
<text x="351.09" y="596.30" font-size="9.8" textLength="10.68" lengthAdjust="spacingAndGlyphs" fill="#231f20">42</text>
<text x="350.85" y="610.60" font-size="9.8" textLength="10.68" lengthAdjust="spacingAndGlyphs" fill="#231f20">24</text>
<text x="375.87" y="596.30" font-size="9.8" textLength="10.68" lengthAdjust="spacingAndGlyphs" fill="#231f20">30</text>
<text x="375.74" y="610.60" font-size="9.8" textLength="10.68" lengthAdjust="spacingAndGlyphs" fill="#231f20">17</text>
<text x="400.64" y="596.30" font-size="9.8" textLength="10.68" lengthAdjust="spacingAndGlyphs" fill="#231f20">19</text>
<text x="403.45" y="610.60" font-size="9.8" textLength="5.34" lengthAdjust="spacingAndGlyphs" fill="#231f20">9</text>
<text x="425.52" y="596.30" font-size="9.8" textLength="10.68" lengthAdjust="spacingAndGlyphs" fill="#231f20">15</text>
<text x="428.36" y="610.60" font-size="9.8" textLength="5.34" lengthAdjust="spacingAndGlyphs" fill="#231f20">5</text>
<text x="453.29" y="596.30" font-size="9.8" textLength="5.34" lengthAdjust="spacingAndGlyphs" fill="#231f20">3</text>
<text x="453.26" y="610.60" font-size="9.8" textLength="5.34" lengthAdjust="spacingAndGlyphs" fill="#231f20">2</text>
<text x="478.04" y="596.30" font-size="9.8" textLength="5.34" lengthAdjust="spacingAndGlyphs" fill="#231f20">1</text>
<text x="478.04" y="610.60" font-size="9.8" textLength="5.34" lengthAdjust="spacingAndGlyphs" fill="#231f20">1</text>
<text x="503.08" y="596.30" font-size="9.8" textLength="5.34" lengthAdjust="spacingAndGlyphs" fill="#231f20">0</text>
<text x="503.08" y="610.60" font-size="9.8" textLength="5.34" lengthAdjust="spacingAndGlyphs" fill="#231f20">0</text>
<circle cx="84.6" cy="629.9" r="1.5" fill="#231f20"/>
<text x="90.02" y="633.00" font-size="10" textLength="337.32" lengthAdjust="spacingAndGlyphs" fill="#231f20">36-month OS rate was 83% (95% CI, 69.1-90.5) in the POD24 subgroup and</text>
<text x="89.96" y="644.90" font-size="10" textLength="228.83" lengthAdjust="spacingAndGlyphs" fill="#231f20">80% (95% CI, 60.9-90.6) in patients without POD24</text>
</svg>
</body></html>
